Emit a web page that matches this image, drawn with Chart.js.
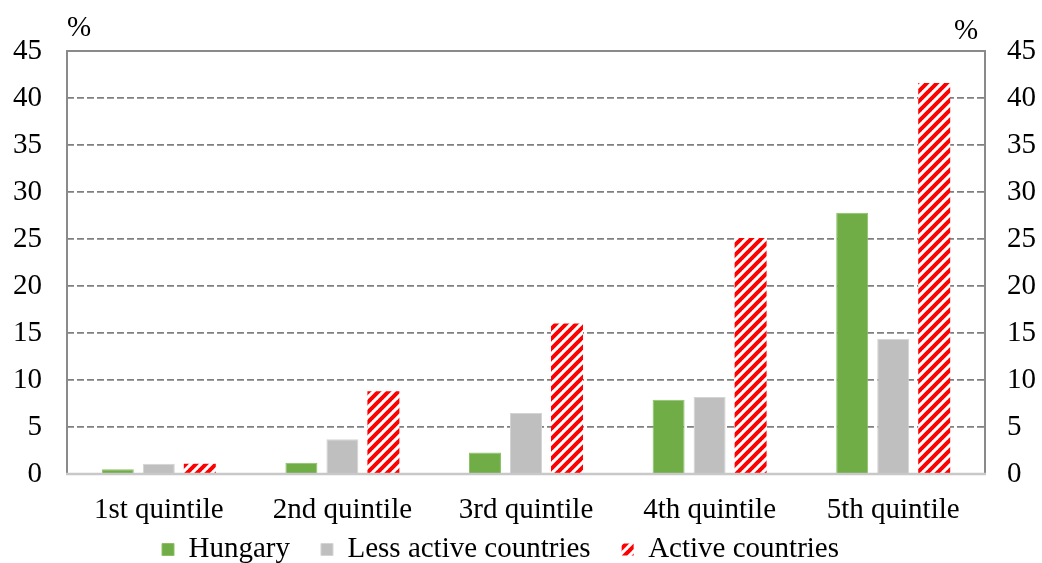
<!DOCTYPE html>
<html>
<head>
<meta charset="utf-8">
<script src="https://cdn.jsdelivr.net/npm/chart.js@4/dist/chart.umd.min.js"></script>
<style>
  html, body { margin: 0; padding: 0; background: #ffffff; }
  #wrap { width: 1042px; height: 563px; }
</style>
</head>
<body>
<div id="wrap"><canvas id="c" width="1042" height="563"></canvas></div>
<script>
// Share of each income quintile (%)
const categories = ['1st quintile', '2nd quintile', '3rd quintile', '4th quintile', '5th quintile'];
const hungary    = [0.5, 1.2, 2.3, 7.9, 27.8];
const lessActive = [1.1, 3.7, 6.5, 8.2, 14.4];
const active     = [1.1, 8.8, 16.0, 25.1, 41.6];
const yTicks     = [0, 5, 10, 15, 20, 25, 30, 35, 40, 45];

const FONT = { family: "'Liberation Serif', 'Times New Roman', serif", size: 29 };

// Red/white upward diagonal hatch
function hatch() {
  const s = 10;
  const c = document.createElement('canvas');
  c.width = s; c.height = s;
  const g = c.getContext('2d');
  g.fillStyle = '#ffffff';
  g.fillRect(0, 0, s, s);
  g.strokeStyle = '#ff0000';
  g.lineWidth = 4;
  g.beginPath();
  for (let k = -1; k <= 1; k++) {
    g.moveTo(k * s - 1, s + 1);
    g.lineTo(k * s + s + 1, -1);
  }
  g.stroke();
  return g.createPattern(c, 'repeat');
}

// Legend row placement: a little below the axis labels, starting near the left edge
const legendPlace = {
  id: 'legendPlace',
  afterLayout(chart) {
    const lg = chart.legend;
    if (!lg || !lg.lineWidths) return;
    const pad = lg.options.labels.padding;
    const start = (lg.left + pad + lg.right - lg.lineWidths[0]) / 2;
    const dx = 162 - start;
    lg.left += dx;
    lg.right += dx;
    lg.top = 504;
    lg.bottom = chart.height;
    lg.height = lg.bottom - lg.top;
  }
};

// Plot frame plus the two "%" unit labels
const framePlugin = {
  id: 'frame',
  afterDraw(chart) {
    const { ctx, chartArea: a } = chart;
    ctx.save();
    ctx.strokeStyle = '#8a8a8a';
    ctx.lineWidth = 2;
    ctx.beginPath();
    ctx.moveTo(a.left, a.bottom);
    ctx.lineTo(a.left, a.top);
    ctx.lineTo(a.right, a.top);
    ctx.lineTo(a.right, a.bottom);
    ctx.stroke();
    ctx.strokeStyle = '#c8c8c8';
    ctx.lineWidth = 2.5;
    ctx.beginPath();
    ctx.moveTo(a.left - 1, a.bottom);
    ctx.lineTo(a.right + 1, a.bottom);
    ctx.stroke();
    ctx.fillStyle = '#000';
    ctx.font = `${FONT.size}px ${FONT.family}`;
    ctx.textAlign = 'center';
    ctx.textBaseline = 'middle';
    ctx.fillText('%', a.left + 12, a.top - 23);
    ctx.fillText('%', a.right - 19, a.top - 20);
    ctx.restore();
  }
};

new Chart(document.getElementById('c'), {
  type: 'bar',
  data: {
    labels: categories,
    datasets: [
      { label: 'Hungary', data: hungary, backgroundColor: '#70AD47', borderColor: '#8cc068', borderWidth: 1, yAxisID: 'y' },
      { label: 'Less active countries', data: lessActive, backgroundColor: '#BFBFBF', borderColor: '#d4d4d4', borderWidth: 1, yAxisID: 'y' },
      { label: 'Active countries', data: active, backgroundColor: hatch(), borderWidth: 0, yAxisID: 'y' }
    ]
  },
  options: {
    responsive: false,
    animation: false,
    devicePixelRatio: 1,
    categoryPercentage: 0.67,
    barPercentage: 0.78,
    layout: { padding: { top: 51, right: 0, bottom: 0, left: 0 } },
    plugins: {
      legend: {
        position: 'bottom',
        maxHeight: 34,
        labels: { boxWidth: 12, boxHeight: 12, padding: 31, color: '#000', font: FONT }
      },
      tooltip: { enabled: false }
    },
    scales: {
      x: {
        grid: { display: false, drawTicks: false },
        border: { display: false },
        ticks: { color: '#000', font: FONT, padding: 19, maxRotation: 0 },
        afterFit(s) { s.height = 55; }
      },
      y: {
        position: 'left',
        min: 0, max: 45,
        afterBuildTicks(s) { s.ticks = yTicks.map(v => ({ value: v })); },
        grid: { color: '#808080', lineWidth: 1.8, drawTicks: false },
        border: { display: false, dash: [7, 3] },
        ticks: { color: '#000', font: FONT, padding: 25 },
        afterFit(s) { s.width = 67; }
      },
      y2: {
        position: 'right',
        min: 0, max: 45,
        afterBuildTicks(s) { s.ticks = yTicks.map(v => ({ value: v })); },
        grid: { drawOnChartArea: false, drawTicks: false },
        border: { display: false },
        ticks: { color: '#000', font: FONT, padding: 22 },
        afterFit(s) { s.width = 57; }
      }
    }
  },
  plugins: [framePlugin, legendPlace]
});
</script>
</body>
</html>
